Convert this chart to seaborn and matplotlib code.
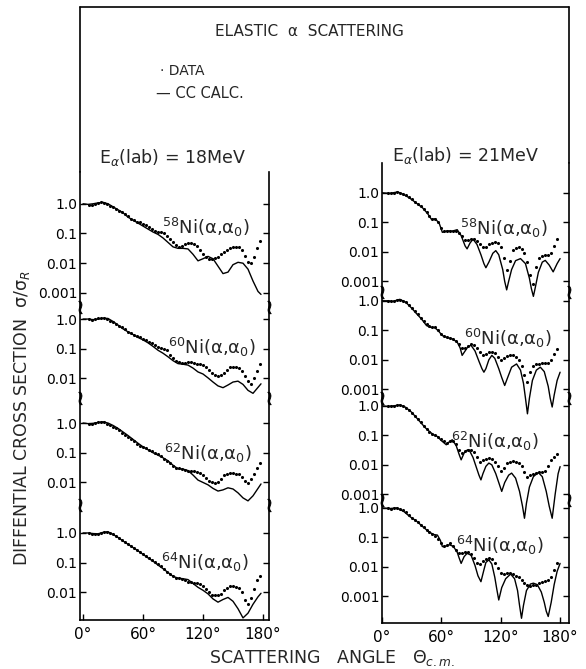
import numpy as np
import pandas as pd
import matplotlib
matplotlib.use("Agg")
import matplotlib.pyplot as plt
import seaborn as sns
from matplotlib.lines import Line2D
from matplotlib.markers import MarkerStyle
from matplotlib.ticker import FixedLocator, FixedFormatter, NullLocator

sns.set_theme(style="white")
plt.rcParams['font.family'] = ['DejaVu Sans']
plt.rcParams['mathtext.fontset'] = 'dejavusans'

# ------------------------------------------------------------------ data
isotopes = ["58", "60", "62", "64"]
tick_texts = ["1.0", "0.1", "0.01", "0.001"]
x_ticks = [0, 60, 120, 180]
x_tick_texts = ["0°", "60°", "120°", "180°"]

# 18 MeV, CC calculation (log10 sigma/sigma_R)
calc_angle_18 = [0, 5, 10, 15, 20, 25, 30, 35, 40, 45, 50, 55, 60, 65, 70, 75, 80, 85, 90, 95,
                 100, 105, 110, 115, 120, 125, 130, 135, 140, 145, 150, 155, 160, 165, 170, 175, 178]
calc_18_58 = [0, -0.02, 0.0, 0.03, 0.05, 0.0, -0.1, -0.2, -0.3, -0.45, -0.55, -0.65, -0.75, -0.85,
              -0.95, -1.03, -1.15, -1.3, -1.45, -1.5, -1.5, -1.52, -1.7, -1.92, -1.85, -1.77, -1.85,
              -2.1, -2.35, -2.3, -2.05, -1.97, -2.0, -2.2, -2.6, -2.95, -3.05]
calc_18_60 = [0, 0, -0.02, 0.0, 0.03, 0.02, -0.08, -0.2, -0.33, -0.43, -0.52, -0.62, -0.7, -0.8,
              -0.92, -1.05, -1.15, -1.27, -1.4, -1.5, -1.52, -1.55, -1.65, -1.78, -1.85, -1.98, -2.12,
              -2.25, -2.31, -2.22, -2.12, -2.09, -2.2, -2.4, -2.5, -2.3, -2.18]
calc_18_62 = [0, -0.02, -0.01, 0.02, 0.04, 0.0, -0.08, -0.18, -0.3, -0.42, -0.55, -0.68, -0.8, -0.9,
              -1.0, -1.08, -1.17, -1.27, -1.42, -1.54, -1.55, -1.6, -1.75, -1.92, -2.0, -2.08, -2.2,
              -2.29, -2.25, -2.18, -2.22, -2.35, -2.52, -2.62, -2.45, -2.2, -2.05]
calc_18_64 = [0, 0.0, -0.02, -0.03, 0.02, 0.04, -0.05, -0.15, -0.27, -0.38, -0.49, -0.6, -0.72, -0.84,
              -0.95, -1.08, -1.2, -1.33, -1.46, -1.52, -1.54, -1.57, -1.7, -1.83, -1.93, -2.05, -2.22,
              -2.33, -2.24, -2.17, -2.3, -2.55, -2.86, -2.7, -2.4, -2.15, -2.03]

# measured points (log10 sigma/sigma_R), same angles for every isotope
data_angle = list(range(6, 178, 3))
data_18_58 = [-0.05, -0.03, 0.0, 0.03, 0.05, 0.04, 0.0, -0.07, -0.12, -0.17,
              -0.23, -0.28, -0.35, -0.42, -0.5, -0.55, -0.6, -0.62, -0.67, -0.72,
              -0.78, -0.85, -0.9, -0.95, -0.95, -1.0, -1.1, -1.2, -1.3, -1.38,
              -1.45, -1.42, -1.35, -1.32, -1.32, -1.35, -1.42, -1.55, -1.7, -1.8,
              -1.85, -1.85, -1.82, -1.78, -1.7, -1.62, -1.55, -1.5, -1.47, -1.45,
              -1.47, -1.55, -1.75, -1.95, -2.0, -1.8, -1.5, -1.25]
data_18_60 = [-0.01, -0.02, 0.0, 0.02, 0.04, 0.03, 0.0, -0.05, -0.1, -0.15,
              -0.22, -0.28, -0.35, -0.42, -0.48, -0.53, -0.58, -0.62, -0.68, -0.72,
              -0.77, -0.82, -0.88, -0.93, -0.97, -1.0, -1.05, -1.2, -1.32, -1.4,
              -1.45, -1.47, -1.48, -1.45, -1.45, -1.47, -1.5, -1.52, -1.55, -1.6,
              -1.7, -1.8, -1.88, -1.9, -1.88, -1.8, -1.7, -1.62, -1.6, -1.6,
              -1.65, -1.75, -1.9, -2.1, -2.2, -2.0, -1.75, -1.5]
data_18_62 = [-0.02, -0.02, 0.0, 0.02, 0.03, 0.02, -0.02, -0.07, -0.12, -0.18,
              -0.25, -0.32, -0.4, -0.47, -0.55, -0.62, -0.7, -0.76, -0.8, -0.85,
              -0.9, -0.95, -1.0, -1.05, -1.1, -1.2, -1.27, -1.35, -1.45, -1.5,
              -1.53, -1.55, -1.58, -1.6, -1.62, -1.63, -1.65, -1.68, -1.75, -1.85,
              -1.95, -2.0, -2.02, -2.0, -1.9, -1.75, -1.7, -1.68, -1.68, -1.7,
              -1.73, -1.8, -1.95, -2.02, -1.9, -1.7, -1.5, -1.35]
data_18_64 = [-0.01, -0.02, -0.02, -0.02, 0.0, 0.03, 0.04, 0.0, -0.05, -0.11,
              -0.17, -0.24, -0.31, -0.38, -0.45, -0.51, -0.57, -0.63, -0.7, -0.77,
              -0.84, -0.9, -0.97, -1.05, -1.12, -1.2, -1.3, -1.38, -1.45, -1.5,
              -1.52, -1.55, -1.6, -1.64, -1.66, -1.68, -1.7, -1.72, -1.78, -1.9,
              -2.0, -2.08, -2.1, -2.1, -2.05, -1.93, -1.85, -1.8, -1.8, -1.83,
              -1.86, -2.0, -2.25, -2.39, -2.2, -1.9, -1.6, -1.45]

# 21 MeV, CC calculation
calc_angle_21_58 = [0, 8, 16, 22, 28, 34, 41, 46, 50, 54, 58, 61, 66, 71, 76, 80, 84, 86, 89, 92,
                    96, 100, 103, 105, 108, 112, 115, 118, 122, 124, 126, 128, 131, 135, 140, 145,
                    149, 151, 153, 155, 158, 162, 165, 169, 173, 177, 180]
calc_21_58 = [0, -0.02, 0.03, -0.06, -0.18, -0.33, -0.51, -0.7, -0.9, -0.88, -1.05, -1.34, -1.29,
              -1.3, -1.25, -1.45, -1.8, -1.9, -1.7, -1.57, -1.75, -2.1, -2.4, -2.54, -2.35, -2.05,
              -1.96, -2.1, -2.6, -3.0, -3.29, -3.0, -2.6, -2.3, -2.23, -2.4, -2.9, -3.25, -3.51,
              -3.2, -2.7, -2.35, -2.29, -2.45, -2.68, -2.4, -2.23]
calc_angle_21_60 = [0, 6, 11, 18, 24, 30, 35, 40, 45, 49, 53, 57, 61, 66, 71, 76, 79, 81, 84, 87,
                    90, 94, 98, 101, 103, 105, 108, 111, 114, 118, 121, 124, 127, 131, 136, 140,
                    143, 145, 147, 149, 152, 156, 160, 164, 168, 170, 172, 174, 177, 180]
calc_21_60 = [0, 0.0, -0.02, 0.05, -0.05, -0.25, -0.44, -0.62, -0.84, -0.9, -0.9, -1.02, -1.18,
              -1.25, -1.29, -1.4, -1.6, -1.85, -1.7, -1.55, -1.51, -1.7, -2.05, -2.3, -2.42, -2.3,
              -2.0, -1.85, -1.95, -2.3, -2.6, -2.87, -2.6, -2.25, -2.14, -2.35, -2.8, -3.3, -3.83,
              -3.3, -2.7, -2.35, -2.25, -2.4, -2.9, -3.3, -3.6, -3.2, -2.7, -2.42]
calc_angle_21_62 = [0, 6, 12, 18, 24, 30, 35, 40, 44, 48, 52, 56, 60, 65, 68, 71, 75, 78, 80, 83,
                    86, 88, 92, 96, 98, 100, 102, 105, 108, 111, 115, 118, 121, 124, 128, 131,
                    135, 139, 142, 144, 146, 149, 153, 158, 162, 166, 169, 172, 175, 178, 180]
calc_21_62 = [0, -0.02, 0.0, 0.03, -0.05, -0.22, -0.41, -0.6, -0.75, -0.87, -0.98, -1.04, -1.18,
              -1.32, -1.22, -1.15, -1.35, -1.65, -1.83, -1.6, -1.5, -1.49, -1.75, -2.15, -2.35,
              -2.51, -2.3, -2.05, -1.94, -2.0, -2.3, -2.6, -2.9, -2.6, -2.35, -2.28, -2.45, -2.9,
              -3.4, -3.81, -3.3, -2.75, -2.4, -2.26, -2.4, -2.9, -3.4, -3.81, -3.0, -2.3, -2.06]
calc_angle_21_64 = [0, 8, 15, 22, 28, 35, 41, 47, 52, 56, 59, 61, 64, 68, 72, 76, 78, 80, 83, 86,
                    90, 94, 97, 100, 103, 105, 108, 111, 114, 116, 118, 121, 125, 130, 134, 137,
                    139, 141, 143, 146, 150, 153, 157, 161, 164, 166, 168, 171, 174, 177, 180]
calc_21_64 = [0, -0.02, 0.0, -0.12, -0.29, -0.45, -0.63, -0.8, -0.9, -0.92, -1.1, -1.31, -1.3,
              -1.25, -1.3, -1.5, -1.7, -1.88, -1.65, -1.54, -1.6, -1.95, -2.3, -2.5, -2.1, -1.85,
              -1.76, -1.9, -2.35, -2.75, -3.12, -2.7, -2.4, -2.24, -2.4, -2.8, -3.3, -3.74, -3.3,
              -2.8, -2.58, -2.55, -2.6, -2.85, -3.2, -3.5, -3.68, -3.2, -2.6, -2.15, -1.88]

data_21_58 = [-0.01, -0.02, 0.0, 0.02, 0.01, -0.04, -0.09, -0.15, -0.22, -0.3,
              -0.38, -0.46, -0.55, -0.65, -0.78, -0.88, -0.9, -1.0, -1.2, -1.3,
              -1.3, -1.3, -1.3, -1.3, -1.35, -1.45, -1.6, -1.6, -1.57, -1.57,
              -1.62, -1.75, -1.85, -1.84, -1.75, -1.7, -1.68, -1.7, -1.85, -2.2,
              -2.6, -2.3, -1.95, -1.88, -1.85, -1.92, -2.05, -2.35, -2.8, -3.1,
              -2.5, -2.2, -2.15, -2.12, -2.1, -2.05, -1.8, -1.55]
data_21_60 = [-0.01, -0.01, 0.0, 0.03, 0.04, 0.0, -0.05, -0.14, -0.24, -0.35,
              -0.46, -0.58, -0.7, -0.8, -0.86, -0.88, -0.9, -1.0, -1.12, -1.2,
              -1.24, -1.27, -1.3, -1.35, -1.45, -1.6, -1.6, -1.52, -1.48, -1.5,
              -1.6, -1.75, -1.85, -1.8, -1.74, -1.72, -1.78, -1.9, -2.0, -1.95,
              -1.87, -1.85, -1.85, -1.9, -2.0, -2.2, -2.5, -2.75, -2.4, -2.2,
              -2.15, -2.13, -2.12, -2.12, -2.1, -2.0, -1.8, -1.65]
data_21_62 = [-0.02, -0.01, 0.0, 0.02, 0.02, -0.02, -0.07, -0.15, -0.24, -0.33,
              -0.43, -0.55, -0.67, -0.78, -0.87, -0.95, -1.0, -1.05, -1.12, -1.2,
              -1.25, -1.2, -1.18, -1.3, -1.5, -1.6, -1.52, -1.48, -1.5, -1.58,
              -1.75, -1.9, -1.85, -1.8, -1.78, -1.8, -1.9, -2.05, -2.2, -2.1,
              -1.95, -1.9, -1.88, -1.9, -1.95, -2.05, -2.25, -2.4, -2.35, -2.3,
              -2.27, -2.25, -2.25, -2.2, -2.05, -1.85, -1.72, -1.62]
data_21_64 = [-0.01, -0.02, 0.0, 0.0, -0.03, -0.07, -0.15, -0.25, -0.33, -0.4,
              -0.48, -0.57, -0.66, -0.75, -0.83, -0.9, -0.95, -1.05, -1.2, -1.28,
              -1.25, -1.2, -1.28, -1.42, -1.52, -1.53, -1.5, -1.5, -1.55, -1.7,
              -1.85, -1.9, -1.8, -1.72, -1.7, -1.72, -1.85, -2.05, -2.2, -2.25,
              -2.22, -2.22, -2.25, -2.3, -2.33, -2.45, -2.55, -2.6, -2.63, -2.62,
              -2.6, -2.55, -2.5, -2.48, -2.45, -2.35, -2.1, -1.85]

# ------------------------------------------------------------------ layout
W, H = 586, 669
offsets_18 = [14.01, 10.13, 6.63, 2.93]       # decade position of "1.0" in each strip
offsets_21 = [14.58, 10.92, 7.36, 3.90]
breaks_18 = [10.54, 7.47, 3.87]
breaks_21 = [11.22, 7.63, 4.17]
labels_18 = [4, 3, 3, 4]
labels_21 = [4, 4, 4, 4]
ni_pos_18 = [(123, -0.78), (129, -0.94), (125, -1.01), (122, -0.98)]
ni_pos_21 = [(123, -1.22), (127, -1.26), (114, -1.22), (119, -1.26)]


def frame(angles, logs, offsets):
    parts = []
    for iso, a, lg, off in zip(isotopes, angles, logs, offsets):
        parts.append(pd.DataFrame({"angle": a,
                                   "sigma": 10.0 ** (np.asarray(lg, float) + off),
                                   "curve": iso}))
    return pd.concat(parts, ignore_index=True)


fig = plt.figure(figsize=(W / 100, H / 100), dpi=100)


def rect(x0, y0, x1, y1):
    return [x0 / W, 1 - y1 / H, (x1 - x0) / W, (y1 - y0) / H]


axL = fig.add_axes(rect(80, 172, 269, 620))
axR = fig.add_axes(rect(382, 163, 569, 623))

panels = [
    (axL, frame([calc_angle_18] * 4, [calc_18_58, calc_18_60, calc_18_62, calc_18_64], offsets_18),
     frame([data_angle] * 4, [data_18_58, data_18_60, data_18_62, data_18_64], offsets_18),
     offsets_18, breaks_18, labels_18, ni_pos_18, (-3, 186), 15.08),
    (axR, frame([calc_angle_21_58, calc_angle_21_60, calc_angle_21_62, calc_angle_21_64],
                [calc_21_58, calc_21_60, calc_21_62, calc_21_64], offsets_21),
     frame([data_angle] * 4, [data_21_58, data_21_60, data_21_62, data_21_64], offsets_21),
     offsets_21, breaks_21, labels_21, ni_pos_21, (0, 189), 15.59),
]

brk = MarkerStyle(r'$\wr$')

for ax, cdf, ddf, offs, brks, nlab, nipos, xlim, top in panels:
    sns.lineplot(data=cdf, x="angle", y="sigma", units="curve", estimator=None, sort=False,
                 color="black", linewidth=1.0, ax=ax)
    sns.scatterplot(data=ddf, x="angle", y="sigma", color="black", s=5, linewidth=0,
                    ax=ax, zorder=3)
    ax.set_yscale("log")
    ax.set_ylim(1, 10 ** top)
    ax.set_xlim(*xlim)
    ax.set_xlabel("")
    ax.set_ylabel("")
    ticks, texts = [], []
    for off, n in zip(offs, nlab):
        for k in range(n):
            ticks.append(10 ** (off - k))
            texts.append(tick_texts[k])
    ax.yaxis.set_major_locator(FixedLocator(ticks))
    ax.yaxis.set_major_formatter(FixedFormatter(texts))
    ax.yaxis.set_minor_locator(NullLocator())
    ax.set_xticks(x_ticks)
    ax.set_xticklabels(x_tick_texts)
    ax.tick_params(axis="y", direction="in", length=4, width=1, left=True, right=True,
                   labelsize=10, pad=2, colors="black")
    ax.tick_params(axis="x", direction="in", length=4, width=1, bottom=True, top=False,
                   labelsize=11, pad=5, colors="black")
    for s in ["left", "right", "bottom"]:
        ax.spines[s].set_color("black")
        ax.spines[s].set_linewidth(1.2)
    ax.spines["top"].set_visible(False)
    for b in brks:
        ax.plot([0, 1], [10 ** b, 10 ** b], linestyle="none", marker=brk, markersize=9,
                color="black", markeredgewidth=0.6, transform=ax.get_yaxis_transform(),
                clip_on=False)
    for iso, off, (xa, dy) in zip(isotopes, offs, nipos):
        ax.text(xa, 10 ** (off + dy), r"$^{%s}$Ni(α,α$_0$)" % iso, ha="center", va="center",
                fontsize=13)

# outer frame
lw = 1.2
fig.add_artist(Line2D([80 / W, 80 / W], [1 - 172 / H, 1 - 7 / H], color="black", lw=lw))
fig.add_artist(Line2D([80 / W, 569 / W], [1 - 7 / H, 1 - 7 / H], color="black", lw=lw))
fig.add_artist(Line2D([569 / W, 569 / W], [1 - 7 / H, 1 - 163 / H], color="black", lw=lw))

fig.text(309 / W, 1 - 31 / H, "ELASTIC  α  SCATTERING", ha="center", va="center", fontsize=11)
fig.text(160 / W, 1 - 71 / H, "· DATA", ha="left", va="center", fontsize=10)
fig.text(156 / W, 1 - 94 / H, "— CC CALC.", ha="left", va="center", fontsize=10.5)
fig.text(172 / W, 1 - 158 / H, r"E$_{α}$(lab) = 18MeV", ha="center", va="center", fontsize=12.5)
fig.text(465 / W, 1 - 155 / H, r"E$_{α}$(lab) = 21MeV", ha="center", va="center", fontsize=12.5)
fig.text(22 / W, 1 - 418 / H, r"DIFFENTIAL CROSS SECTION  σ/σ$_R$", rotation=90,
         ha="center", va="center", fontsize=12.5)
fig.text(332 / W, 1 - 658 / H, r"SCATTERING   ANGLE   Θ$_{c.m.}$", ha="center", va="center",
         fontsize=12.5)

fig.savefig("out.png", dpi=100)
